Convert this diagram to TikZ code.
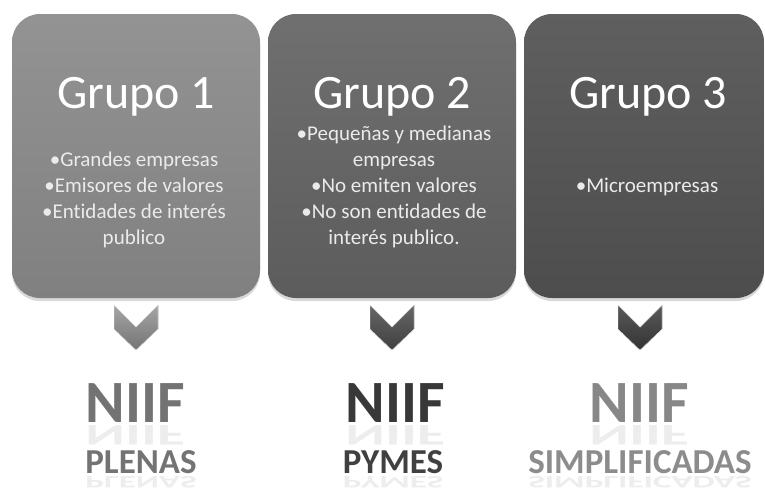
\documentclass[tikz,border=0pt]{standalone}
\usepackage{fontspec}
\setmainfont{Carlito}[Ligatures=NoCommon]
\usetikzlibrary{shadows}

\definecolor{grisA}{HTML}{808080}
\definecolor{grisB}{HTML}{5C5C5C}
\definecolor{grisC}{HTML}{4D4D4D}

\begin{document}
\begin{tikzpicture}[x=1pt,y=-1pt,
  grupo/.style={rounded corners=28pt, minimum height=284pt, inner sep=0pt,
    drop shadow={opacity=0.3,shadow xshift=0pt,shadow yshift=-3pt}},
  titulo/.style={anchor=base, text=white, font=\fontsize{48}{50}\selectfont},
  lista/.style={text=white!92!black, align=center, font=\fontsize{21}{26}\selectfont},
  flecha/.style={draw=white, line width=0.4pt},
  niif/.style={anchor=base, font=\fontsize{60}{60}\selectfont\bfseries},
  tipo/.style={anchor=base, font=\fontsize{35}{35}\selectfont\bfseries},
  espejo/.style={anchor=base, inner sep=0pt, yscale=-0.5, text=black!7}]
\useasboundingbox[fill=white] (0,0) rectangle (765,491);

% los tres grupos
\node[grupo, minimum width=248pt, top color=grisA!85!white, bottom color=grisA] (G1) at (136,156) {};
\node[grupo, minimum width=248pt, top color=grisB!88!white, bottom color=grisB] (G2) at (392,156) {};
\node[grupo, minimum width=240pt, top color=grisC!90!white, bottom color=grisC] (G3) at (644,156) {};

\node[titulo] (T1) at (136,108) {Grupo 1};
\node[titulo] (T2) at (392,108) {Grupo 2};
\node[titulo] (T3) at (648,108) {Grupo 3};

\node[lista] (L1) at (134,200) {\textbullet Grandes empresas\\ \textbullet Emisores de valores\\ \textbullet Entidades de interés\\ publico};
\node[lista] (L2) at (394,187) {\textbullet Pequeñas y medianas\\ empresas\\ \textbullet No emiten valores\\ \textbullet No son entidades de\\ interés publico.};
\node[lista] (L3) at (647,187) {\textbullet Microempresas};

% flechas
\fill[flecha, shift={(G1.south)}, top color=black!35, bottom color=black!55]
  (-22,7) -- (0,29) -- (22,7) -- (22,31) -- (0,52) -- (-22,31) -- cycle;
\fill[flecha, shift={(G2.south)}, top color=black!60, bottom color=black!75]
  (-22,7) -- (0,29) -- (22,7) -- (22,31) -- (0,52) -- (-22,31) -- cycle;
\fill[flecha, shift={(G3.south)}, top color=black!65, bottom color=black!80]
  (-26,7) -- (-4,29) -- (18,7) -- (18,31) -- (-4,52) -- (-26,31) -- cycle;

% normas
\node[niif, text=black!55] (N1) at (135,422) {NIIF};
\node[niif, text=black!78] (N2) at (395,422) {NIIF};
\node[niif, text=black!47] (N3) at (639,422) {NIIF};
\node[tipo, text=black!55] (P1) at (141,473) {PLENAS};
\node[tipo, text=black!75] (P2) at (393,473) {PYMES};
\node[tipo, text=black!45] (P3) at (640,473) {SIMPLIFICADAS};

% reflejos
\node[espejo] (E1) at (135,425) {\fontsize{60}{60}\selectfont\bfseries NIIF};
\node[espejo] (E2) at (395,425) {\fontsize{60}{60}\selectfont\bfseries NIIF};
\node[espejo] (E3) at (639,425) {\fontsize{60}{60}\selectfont\bfseries NIIF};
\node[espejo] (F1) at (141,476) {\fontsize{35}{35}\selectfont\bfseries PLENAS};
\node[espejo] (F2) at (393,476) {\fontsize{35}{35}\selectfont\bfseries PYMES};
\node[espejo] (F3) at (640,476) {\fontsize{35}{35}\selectfont\bfseries SIMPLIFICADAS};
\end{tikzpicture}
\end{document}
